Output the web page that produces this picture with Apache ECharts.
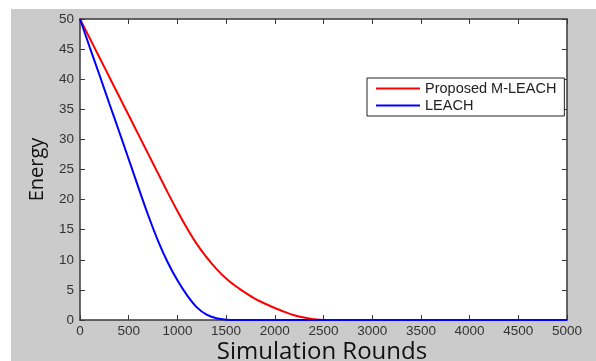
<!DOCTYPE html>
<html>
<head>
<meta charset="utf-8">
<script src="https://cdn.jsdelivr.net/npm/echarts@6/dist/echarts.min.js"></script>
<style>html,body{margin:0;padding:0;background:#fff;}#c{width:596px;height:361px;}</style>
</head>
<body>
<div id="c"></div>
<script>
const rounds = [0,100,200,300,400,500,600,700,800,900,1000,1100,1200,1300,1400,1500,1600,1700,1800,1900,2000,2100,2200,2300,2400,2500,3000,3500,4000,4500,5000];
const mleach = [50,46.8,43.6,40.4,37.2,34.0,30.8,27.6,24.4,21.2,18.1,15.2,12.6,10.4,8.5,6.9,5.6,4.5,3.5,2.7,2.0,1.35,0.8,0.4,0.12,0,0,0,0,0,0];
const leach = [50,45.3,40.7,36.0,31.4,26.7,22.0,17.4,13.2,9.6,6.6,4.1,2.1,0.9,0.3,0.05,0,0,0,0,0,0,0,0,0,0,0,0,0,0,0];
const seriesNames = ['Proposed M-LEACH','LEACH'];
const xTitle = 'Simulation Rounds';
const yTitle = 'Energy';

const chart = echarts.init(document.getElementById('c'));
const pairs = arr => rounds.map((r,i)=>[r,arr[i]]);
const axisCommon = {
  axisLine:{show:true,onZero:false,lineStyle:{color:'#3a3a3a',width:1.5}},
  axisTick:{show:true,inside:true,length:5,lineStyle:{color:'#3a3a3a',width:1}},
  splitLine:{show:false}
};
const plain = v => String(v);
chart.setOption({
  animation:false,
  backgroundColor:'#ffffff',
  graphic:[
    {type:'rect',left:11,top:9,shape:{width:585,height:352},style:{fill:'#cbcbcb'},z:-10},
    {type:'text',x:322,y:352,z:10,style:{text:xTitle,fontFamily:'Open Sans',fontSize:24,fill:'#111',
      align:'center',verticalAlign:'middle'}}
  ],
  grid:{left:80,top:19,right:29,bottom:41,show:true,backgroundColor:'#ffffff',borderWidth:0,
        containLabel:false,outerBoundsMode:'none'},
  legend:{
    orient:'vertical',left:367,top:78,
    backgroundColor:'#ffffff',borderColor:'#222',borderWidth:1,
    padding:[3,8,3,9],itemGap:2,itemWidth:44,itemHeight:2,
    icon:'rect',
    textStyle:{fontFamily:'Liberation Sans',fontSize:14.5,color:'#222'},
    data:seriesNames
  },
  xAxis:[
    Object.assign({type:'value',position:'bottom',min:0,max:5000,interval:500,
      axisLabel:{margin:4,fontFamily:'Liberation Sans',fontSize:13.5,color:'#333',formatter:plain}},axisCommon),
    Object.assign({type:'value',position:'top',min:0,max:5000,interval:500,axisLabel:{show:false}},axisCommon)
  ],
  yAxis:[
    Object.assign({type:'value',position:'left',min:0,max:50,interval:5,
      name:yTitle,nameLocation:'middle',nameGap:33,
      nameTextStyle:{fontFamily:'Open Sans',fontSize:20,color:'#111'},
      axisLabel:{margin:6,fontFamily:'Liberation Sans',fontSize:13.5,color:'#333',formatter:plain}},axisCommon),
    Object.assign({type:'value',position:'right',min:0,max:50,interval:5,axisLabel:{show:false}},axisCommon)
  ],
  series:[
    {name:seriesNames[0],type:'line',data:pairs(mleach),smooth:0.3,showSymbol:false,
     lineStyle:{color:'#ff0000',width:2},itemStyle:{color:'#ff0000'},z:3},
    {name:seriesNames[1],type:'line',data:pairs(leach),smooth:0.3,showSymbol:false,
     lineStyle:{color:'#0000ff',width:2},itemStyle:{color:'#0000ff'},z:4}
  ]
});
</script>
</body>
</html>
